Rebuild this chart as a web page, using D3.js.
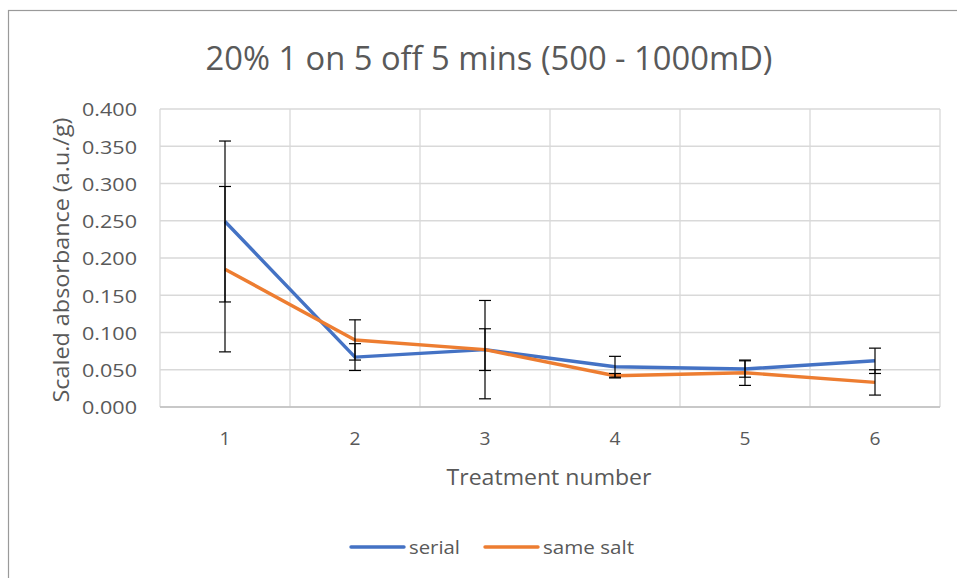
<!DOCTYPE html>
<html>
<head>
<meta charset="utf-8">
<script src="https://cdn.jsdelivr.net/npm/d3@7"></script>
<style>
  html, body { margin: 0; padding: 0; background: #fff; }
  svg { display: block; font-family: "Open Sans", "Noto Sans", sans-serif; }
</style>
</head>
<body>
<svg id="chart" width="957" height="578"></svg>
<script>
const title = "20% 1 on 5 off 5 mins (500 - 1000mD)";
const categories = ["1", "2", "3", "4", "5", "6"];
const serial = [0.249, 0.067, 0.077, 0.054, 0.051, 0.062];
const serialErr = [0.108, 0.018, 0.066, 0.014, 0.011, 0.017];
const sameSalt = [0.185, 0.090, 0.077, 0.042, 0.046, 0.033];
const sameSaltErr = [0.111, 0.027, 0.028, 0.003, 0.017, 0.017];
const yTicks = [0, 0.05, 0.1, 0.15, 0.2, 0.25, 0.3, 0.35, 0.4];
const seriesNames = ["serial", "same salt"];
const colors = ["#4472C4", "#ED7D31"];

const svg = d3.select("#chart");
const m = { left: 160, right: 940, top: 109, bottom: 407 };
const textColor = "#595959";

// outer chart border
svg.append("rect").attr("x", 8.5).attr("y", 10.5).attr("width", 1000).attr("height", 1000)
  .attr("fill", "none").attr("stroke", "#9a9a9a").attr("stroke-width", 1.2);

const x = d3.scaleBand().domain(categories).range([m.left, m.right]).padding(0);
const y = d3.scaleLinear().domain([0, 0.4]).range([m.bottom, m.top]);

// horizontal gridlines
svg.append("g").selectAll("line").data(yTicks).join("line")
  .attr("x1", m.left).attr("x2", m.right)
  .attr("y1", d => y(d)).attr("y2", d => y(d))
  .attr("stroke", "#d9d9d9").attr("stroke-width", 1.3);
// vertical gridlines
svg.append("g").selectAll("line").data(categories).join("line")
  .attr("x1", d => x(d)).attr("x2", d => x(d))
  .attr("y1", m.top).attr("y2", m.bottom)
  .attr("stroke", "#d9d9d9").attr("stroke-width", 1.3);
svg.append("line").attr("x1", m.right).attr("x2", m.right).attr("y1", m.top).attr("y2", m.bottom)
  .attr("stroke", "#d9d9d9").attr("stroke-width", 1.3);
// axis line bottom
svg.append("line").attr("x1", m.left).attr("x2", m.right).attr("y1", m.bottom).attr("y2", m.bottom)
  .attr("stroke", "#bfbfbf").attr("stroke-width", 1.3);

// y axis labels
const yAxis = d3.axisLeft(y).tickValues(yTicks).tickFormat(d3.format(".3f")).tickSize(0).tickPadding(0);
const ya = svg.append("g").attr("transform", `translate(${m.left - 23},0)`).call(yAxis);
ya.select(".domain").remove();
ya.selectAll("text").attr("font-size", 19).attr("fill", textColor).attr("dy", "0.36em")
  .attr("textLength", 55).attr("lengthAdjust", "spacingAndGlyphs")
  .style("font-family", "'Open Sans', sans-serif");

// x axis labels
const xAxis = d3.axisBottom(x).tickSize(0).tickPadding(0);
const xa = svg.append("g").attr("transform", `translate(0,${m.bottom + 38})`).call(xAxis);
xa.select(".domain").remove();
xa.selectAll("text").attr("font-size", 19).attr("fill", textColor).attr("dy", 0)
  .attr("textLength", 11).attr("lengthAdjust", "spacingAndGlyphs")
  .style("font-family", "'Open Sans', sans-serif");

// titles
svg.append("text").attr("x", 489).attr("y", 70).attr("text-anchor", "middle")
  .attr("font-size", 32).attr("fill", textColor)
  .attr("textLength", 567).attr("lengthAdjust", "spacingAndGlyphs").text(title);
svg.append("text").attr("x", 549).attr("y", 485).attr("text-anchor", "middle")
  .attr("font-size", 21).attr("fill", textColor)
  .attr("textLength", 205).attr("lengthAdjust", "spacingAndGlyphs").text("Treatment number");
svg.append("text").attr("transform", `translate(69,${260}) rotate(-90)`)
  .attr("text-anchor", "middle").attr("font-size", 21).attr("fill", textColor)
  .attr("textLength", 285).attr("lengthAdjust", "spacingAndGlyphs")
  .text("Scaled absorbance (a.u./g)");

const cx = d => x(d) + x.bandwidth() / 2;
const line = d3.line().x(d => cx(d.c)).y(d => y(d.v));

const seriesData = [
  { name: seriesNames[0], vals: serial, errs: serialErr, color: colors[0] },
  { name: seriesNames[1], vals: sameSalt, errs: sameSaltErr, color: colors[1] }
];

seriesData.forEach(s => {
  const pts = categories.map((c, i) => ({ c, v: s.vals[i] }));
  svg.append("path").datum(pts).attr("d", line).attr("fill", "none")
    .attr("stroke", s.color).attr("stroke-width", 3.4).attr("stroke-linejoin", "round");
});

// error bars
seriesData.forEach(s => {
  const g = svg.append("g").attr("stroke", "#000").attr("stroke-width", 1.2);
  categories.forEach((c, i) => {
    const xc = cx(c), hi = y(s.vals[i] + s.errs[i]), lo = y(s.vals[i] - s.errs[i]);
    g.append("line").attr("x1", xc).attr("x2", xc).attr("y1", hi).attr("y2", lo);
    g.append("line").attr("x1", xc - 6).attr("x2", xc + 6).attr("y1", hi).attr("y2", hi);
    g.append("line").attr("x1", xc - 6).attr("x2", xc + 6).attr("y1", lo).attr("y2", lo);
  });
});

// legend
const legendItems = [
  { name: seriesNames[0], color: colors[0], x: 351, w: 51 },
  { name: seriesNames[1], color: colors[1], x: 485, w: 91 }
];
const lg = svg.append("g");
legendItems.forEach(it => {
  lg.append("line").attr("x1", it.x).attr("x2", it.x + 53).attr("y1", 547).attr("y2", 547)
    .attr("stroke", it.color).attr("stroke-width", 3.4).attr("stroke-linecap", "round");
  lg.append("text").attr("x", it.x + 58).attr("y", 547).attr("dy", "0.36em")
    .attr("font-size", 19).attr("fill", textColor)
    .attr("textLength", it.w).attr("lengthAdjust", "spacingAndGlyphs").text(it.name);
});
</script>
</body>
</html>
